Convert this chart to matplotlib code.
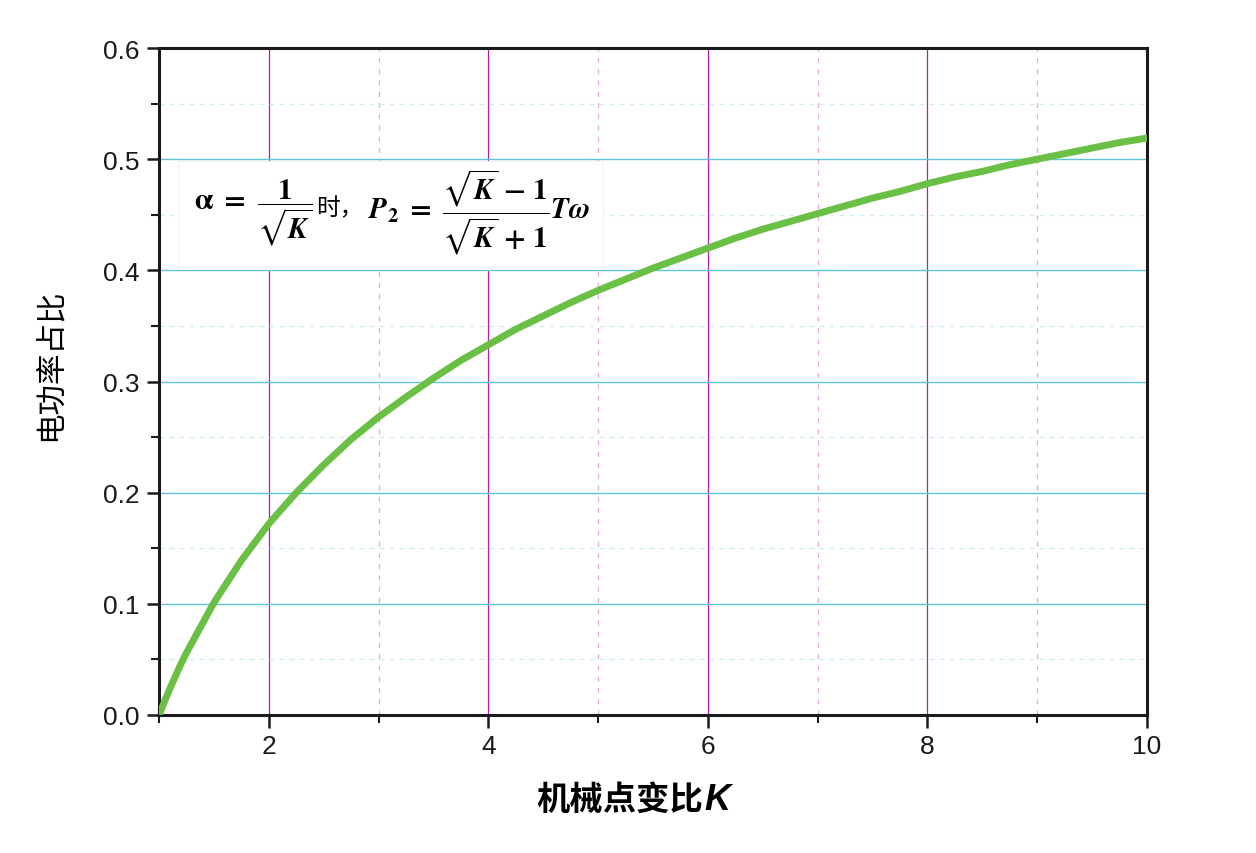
import matplotlib.pyplot as plt
from matplotlib.ticker import MultipleLocator
from matplotlib.patches import Rectangle

plt.rcParams['font.family'] = ['Liberation Sans', 'Noto Sans CJK SC', 'DejaVu Sans']
plt.rcParams['mathtext.fontset'] = 'stix'

# values
K = [1, 1.05, 1.1, 1.15, 1.2, 1.25, 1.5, 1.75, 2, 2.25, 2.5, 2.75, 3, 3.25,
     3.5, 3.75, 4, 4.25, 4.5, 4.75, 5, 5.25, 5.5, 5.75, 6, 6.25, 6.5, 6.75,
     7, 7.25, 7.5, 7.75, 8, 8.25, 8.5, 8.75, 9, 9.25, 9.5, 9.75, 10]
ratio = [0.0, 0.012, 0.024, 0.035, 0.046, 0.056, 0.101, 0.139, 0.172, 0.200,
         0.225, 0.248, 0.268, 0.286, 0.303, 0.319, 0.333, 0.347, 0.359, 0.371,
         0.382, 0.392, 0.402, 0.411, 0.420, 0.429, 0.437, 0.444, 0.451, 0.458,
         0.465, 0.471, 0.478, 0.484, 0.489, 0.495, 0.500, 0.505, 0.510, 0.515,
         0.519]

fig = plt.figure(figsize=(12.56, 8.54), dpi=100)
ax = fig.add_axes([0.1266, 0.1616, 0.7866, 0.781])

ax.plot(K, ratio, color='#6abf45', linewidth=5, solid_joinstyle='round', zorder=5)

ax.set_xlim(1, 10)
ax.set_ylim(0, 0.6)
ax.xaxis.set_major_locator(MultipleLocator(2))
ax.xaxis.set_minor_locator(MultipleLocator(1))
ax.yaxis.set_major_locator(MultipleLocator(0.1))
ax.yaxis.set_minor_locator(MultipleLocator(0.05))
ax.yaxis.set_major_formatter(plt.FormatStrFormatter('%.1f'))

# grid
ax.grid(True, which='major', axis='x', color='#b020b0', linewidth=0.9, zorder=1)
ax.grid(True, which='minor', axis='x', color='#e8a8dc', linewidth=0.9, linestyle=(0, (4, 5)), zorder=1)
ax.grid(True, which='major', axis='y', color='#5cc6d6', linewidth=1.0, zorder=1)
ax.grid(True, which='minor', axis='y', color='#d0eef2', linewidth=0.9, linestyle=(0, (4, 4)), zorder=1)
ax.set_axisbelow(True)

for s in ax.spines.values():
    s.set_linewidth(2.2)
    s.set_color('#1a1a1a')
ax.tick_params(which='major', direction='out', length=9, width=1.8, labelsize=19,
               colors='#1a1a1a', pad=5)
ax.tick_params(which='minor', direction='out', length=6, width=1.5, colors='#1a1a1a')
ax.tick_params(top=False, right=False, which='both')

ax.set_ylabel('电功率占比', fontsize=22, family=['Noto Sans CJK SC'])
ax.yaxis.set_label_coords(-0.095, 0.526)
fig.text(0.560, 0.063, '机械点变比', fontsize=24, fontweight='bold',
         family=['Noto Sans CJK SC'], ha='right', va='center')
fig.text(0.561, 0.063, 'K', fontsize=26, fontweight='bold', style='italic',
         family=['Liberation Sans'], ha='left', va='center')

# formula box
ax.add_patch(Rectangle((0.019, 0.669), 0.43, 0.161, transform=ax.transAxes,
                       facecolor='white', edgecolor='#f2f2f2', linewidth=0.8, zorder=3))
yf = 0.755
t1 = ax.text(0.035, yf, r'$\mathbf{\alpha}\ \mathbf{=}\ \dfrac{\mathbf{1}}{\sqrt{\boldsymbol{K}}}$',
             transform=ax.transAxes, fontsize=21, ha='left', va='center', zorder=4)
fig.canvas.draw()
bb1 = t1.get_window_extent()
t2 = ax.text((bb1.x1 + 4 - ax.bbox.x0) / ax.bbox.width, yf + 0.006, '时，',
             transform=ax.transAxes, fontsize=17, family=['Noto Sans CJK SC'],
             ha='left', va='center', zorder=4)
fig.canvas.draw()
bb2 = t2.get_window_extent()
t3 = ax.text((bb2.x1 + 4 - ax.bbox.x0) / ax.bbox.width, yf,
             r'$\boldsymbol{P}_\mathbf{2}\ \mathbf{=}\ \dfrac{\sqrt{\boldsymbol{K}}\ \mathbf{-\ 1}}{\sqrt{\boldsymbol{K}}\ \mathbf{+\ 1}}\boldsymbol{T\omega}$',
             transform=ax.transAxes, fontsize=21, ha='left', va='center', zorder=4)

fig.savefig('out.png', dpi=100)
